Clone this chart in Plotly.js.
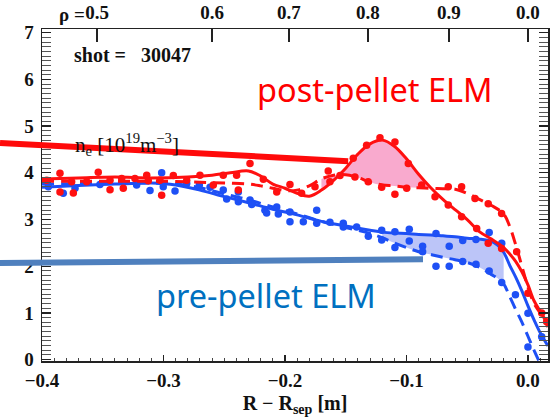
<!DOCTYPE html>
<html>
<head>
<meta charset="utf-8">
<script src="https://cdn.plot.ly/plotly-3.0.1.min.js"></script>
<style>html,body{margin:0;padding:0;background:#fff;}#chart{width:555px;height:417px;}</style>
</head>
<body>
<div id="chart"></div>
<script>
// ---- data ----
const redR = [-0.40,-0.37,-0.34,-0.31,-0.28,-0.26,-0.245,-0.23,-0.22,-0.21,-0.20,-0.19,-0.18,-0.17,-0.16,-0.15,-0.14,-0.13,-0.12,-0.11,-0.10,-0.09,-0.08,-0.07,-0.06,-0.05,-0.04,-0.03,-0.02,-0.015,-0.01,-0.005,0.0,0.005,0.01,0.0165];
const redSolid = [3.87,3.89,3.91,3.89,3.91,3.95,4.00,4.04,3.93,3.76,3.67,3.56,3.50,3.63,3.84,4.10,4.40,4.62,4.70,4.57,4.30,3.97,3.68,3.43,3.21,3.00,2.74,2.58,2.40,2.26,2.10,1.88,1.60,1.26,1.04,0.74];
const redDashed = [3.82,3.82,3.82,3.82,3.81,3.79,3.78,3.76,3.72,3.67,3.62,3.63,3.72,3.87,3.95,3.96,3.90,3.80,3.74,3.72,3.69,3.68,3.67,3.66,3.65,3.56,3.43,3.30,3.12,2.85,2.45,2.00,1.55,1.20,1.00,0.70];

const blueR = [-0.40,-0.37,-0.34,-0.31,-0.29,-0.27,-0.25,-0.23,-0.21,-0.19,-0.17,-0.15,-0.13,-0.12,-0.11,-0.10,-0.09,-0.08,-0.07,-0.06,-0.05,-0.04,-0.03,-0.025,-0.02,-0.015,-0.01,-0.005,0.0,0.005,0.01,0.0165];
const blueSolid = [3.69,3.73,3.76,3.78,3.74,3.63,3.49,3.36,3.22,3.10,2.96,2.86,2.77,2.73,2.71,2.70,2.68,2.67,2.65,2.63,2.60,2.58,2.53,2.45,2.30,2.02,1.76,1.47,1.15,0.85,0.58,0.29];
const blueDashed = [3.76,3.77,3.78,3.78,3.76,3.68,3.55,3.42,3.27,3.12,2.96,2.83,2.70,2.61,2.50,2.40,2.31,2.25,2.19,2.14,2.08,1.98,1.82,1.74,1.62,1.35,1.07,0.80,0.50,0.20,-0.08,-0.40];

const redDotR = [-0.3961,-0.3852,-0.3852,-0.3756,-0.3742,-0.3632,-0.3537,-0.3440,-0.3440,-0.3344,-0.3331,-0.3235,-0.3138,-0.3125,-0.3029,-0.3015,-0.2919,-0.2809,-0.2700,-0.2590,-0.2508,-0.2398,-0.2384,-0.2288,-0.2178,-0.2068,-0.1959,-0.1863,-0.1753,-0.1644,-0.1630,-0.1547,-0.1438,-0.1424,-0.1328,-0.1315,-0.1218,-0.1204,-0.1095,-0.1095,-0.0998,-0.0985,-0.0875,-0.0765,-0.0656,-0.0656,-0.0546,-0.0546,-0.0436,-0.0422,-0.0327,-0.0327,-0.0217,-0.0217,-0.0093,0.0000,0.0113,0.0154,0.0195];
const redDotN = [3.84,3.99,3.59,3.81,3.57,3.81,4.01,3.84,3.64,3.88,3.67,3.88,3.95,3.83,3.84,3.52,3.94,3.84,3.95,3.74,3.95,3.95,3.63,4.20,3.86,3.59,3.75,3.56,3.70,4.04,3.81,3.94,4.31,3.91,4.59,3.81,4.75,3.69,4.66,3.54,3.67,4.20,3.74,3.49,3.70,3.31,3.70,3.06,3.45,2.81,3.34,2.49,3.13,2.38,2.31,1.42,1.00,0.81,0.63];

const blueDotR = [-0.3948,-0.3825,-0.3728,-0.3523,-0.3221,-0.3111,-0.3015,-0.3002,-0.2905,-0.2809,-0.2705,-0.2617,-0.2508,-0.2480,-0.2384,-0.2384,-0.2288,-0.2274,-0.2165,-0.2151,-0.2068,-0.2055,-0.1959,-0.1959,-0.1849,-0.1739,-0.1739,-0.1630,-0.1520,-0.1520,-0.1410,-0.1314,-0.1204,-0.1204,-0.1095,-0.1095,-0.0977,-0.0977,-0.0867,-0.0867,-0.0757,-0.0757,-0.0648,-0.0648,-0.0537,-0.0537,-0.0428,-0.0428,-0.0319,-0.0319,-0.0216,-0.0216,-0.0103,0.0000,0.0000,0.0113];
const blueDotN = [3.70,3.56,3.67,3.75,3.74,3.62,4.00,3.70,3.61,3.77,3.74,3.69,3.63,3.44,3.59,3.38,3.42,3.32,3.20,3.14,3.27,3.12,3.16,2.95,2.95,3.20,2.92,2.94,2.92,2.84,2.84,2.64,2.77,2.56,2.74,2.40,2.79,2.54,2.43,2.31,2.70,2.00,2.43,2.00,2.55,2.10,2.57,2.04,2.72,1.90,2.49,1.65,1.39,0.99,0.27,0.49];

const pinkRange = [-0.17, -0.08];
const blueFillRange = [-0.12, -0.02];

const xTickVals = [-0.4,-0.3,-0.2,-0.1,0.0];
const xTickText = ['\u22120.4','\u22120.3','\u22120.2','\u22120.1','0.0'];
const yTickVals = [0,1,2,3,4,5,6,7];
const yTickText = ['0','1','2','3','4','5','6','7'];
const rhoTickR = [-0.3547,-0.2600,-0.1967,-0.1317,-0.0650,0.0];
const rhoTickText = ['0.5','0.6','0.7','0.8','0.9','0.0'];

// ---- styling ----
const RED = 'rgb(255,16,16)';
const BLUE = 'rgb(30,80,245)';
const PINK = 'rgb(249,170,206)';
const LBLUE = 'rgb(188,197,248)';
const SERIF = 'Liberation Serif, Times New Roman, serif';
const SANS = 'Noto Sans, Open Sans, sans-serif';
const XR = [-0.4, 0.0165];
const YR = [-0.03, 7.08];

function sub(xs, ys, lo, hi) {
  const idx = xs.map((_, i) => i).filter(i => xs[i] >= lo - 1e-9 && xs[i] <= hi + 1e-9);
  return {x: idx.map(i => xs[i]), y: idx.map(i => ys[i])};
}
const pinkLo = sub(redR, redDashed, pinkRange[0], pinkRange[1]);
const pinkHi = sub(redR, redSolid, pinkRange[0], pinkRange[1]);
const bfHi = sub(blueR, blueSolid, blueFillRange[0], blueFillRange[1]);
const bfLo = sub(blueR, blueDashed, blueFillRange[0], blueFillRange[1]);

const sp = {shape: 'spline', smoothing: 1};
const traces = [
  {x: pinkLo.x, y: pinkLo.y, mode: 'lines', line: Object.assign({width: 0, color: PINK}, sp), hoverinfo: 'skip'},
  {x: pinkHi.x, y: pinkHi.y, mode: 'lines', fill: 'tonexty', fillcolor: PINK, line: Object.assign({width: 0, color: PINK}, sp), hoverinfo: 'skip'},
  {x: bfLo.x, y: bfLo.y, mode: 'lines', line: Object.assign({width: 0, color: LBLUE}, sp), hoverinfo: 'skip'},
  {x: bfHi.x, y: bfHi.y, mode: 'lines', fill: 'tonexty', fillcolor: LBLUE, line: Object.assign({width: 0, color: LBLUE}, sp), hoverinfo: 'skip'},
  {x: blueR, y: blueDashed, mode: 'lines', line: Object.assign({width: 3, color: BLUE, dash: '12px,7px'}, sp)},
  {x: blueR, y: blueSolid, mode: 'lines', line: Object.assign({width: 3, color: BLUE}, sp)},
  {x: blueDotR, y: blueDotN, mode: 'markers', marker: {size: 7.5, color: BLUE}},
  {x: redR, y: redDashed, mode: 'lines', line: Object.assign({width: 3, color: RED, dash: '12px,7px'}, sp)},
  {x: redR, y: redSolid, mode: 'lines', line: Object.assign({width: 3, color: RED}, sp)},
  {x: redDotR, y: redDotN, mode: 'markers', marker: {size: 7.5, color: RED}},
  {x: rhoTickR, y: rhoTickR.map(() => null), xaxis: 'x2', mode: 'markers', hoverinfo: 'skip'}
];

function px(R) { return (R - XR[0]) / (XR[1] - XR[0]); }
function py(n) { return (n - YR[0]) / (YR[1] - YR[0]); }
const leftEdge = -42 / 506;
const pointers = [
  {fromN: 4.64, toR: -0.148, toN: 4.25, color: 'rgb(255,10,10)'},
  {fromN: 2.07, toR: -0.0864, toN: 2.15, color: 'rgb(79,128,190)'}
];
const shapes = pointers.map(p => ({
  type: 'line', xref: 'paper', yref: 'paper', layer: 'above',
  x0: leftEdge, y0: py(p.fromN), x1: px(p.toR), y1: py(p.toN),
  line: {color: p.color, width: 6}
}));

const tickFont = {family: SERIF, size: 19, color: '#111', weight: 'bold'};
const layout = {
  width: 555, height: 417,
  margin: {l: 42, r: 7, t: 29, b: 56},
  paper_bgcolor: '#fff', plot_bgcolor: '#fff',
  showlegend: false,
  xaxis: {
    range: XR, tickmode: 'array', tickvals: xTickVals, ticktext: xTickText,
    ticks: 'inside', ticklen: 6, tickwidth: 1.3, tickcolor: '#222',
    minor: {dtick: 0.01, tick0: 0, ticks: 'inside', ticklen: 3, tickwidth: 1, tickcolor: '#444'},
    showline: true, linecolor: '#222', linewidth: 1.5, mirror: false,
    showgrid: false, zeroline: false, tickfont: tickFont, ticklabelstandoff: 2,
    title: {text: 'R \u2212 R<sub>sep</sub> [m]', font: {family: SERIF, size: 20, color: '#111', weight: 'bold'}, standoff: 5}
  },
  xaxis2: {
    overlaying: 'x', side: 'top', anchor: 'y', range: XR,
    tickmode: 'array', tickvals: rhoTickR, ticktext: rhoTickText,
    ticks: 'inside', ticklen: 13, tickwidth: 1.3, tickcolor: '#222',
    showline: true, linecolor: '#222', linewidth: 1.5,
    showgrid: false, zeroline: false, tickfont: tickFont, ticklabelstandoff: 1
  },
  yaxis: {
    range: YR, tickmode: 'array', tickvals: yTickVals, ticktext: yTickText,
    ticks: 'inside', ticklen: 9, tickwidth: 1.3, tickcolor: '#222',
    minor: {dtick: 0.1, tick0: 0, ticks: 'inside', ticklen: 5, tickwidth: 1, tickcolor: '#555'},
    showline: true, linecolor: '#222', linewidth: 1.5, mirror: 'allticks',
    showgrid: false, zeroline: false, tickfont: tickFont, ticklabelstandoff: 3
  },
  shapes: shapes,
  annotations: [
    {xref: 'paper', yref: 'paper', x: px(rhoTickR[0]), y: 1, xanchor: 'right', yanchor: 'bottom', xshift: -10, yshift: 2,
     text: '\u03c1 =', showarrow: false, font: tickFont},
    {xref: 'paper', yref: 'paper', x: 0.059, y: 0.922, xanchor: 'left', yanchor: 'middle',
     text: 'shot =\u00a0\u00a0\u00a030047', showarrow: false, font: {family: SERIF, size: 20, color: '#111', weight: 'bold'}},
    {xref: 'paper', yref: 'paper', x: 0.061, y: 0.652, xanchor: 'left', yanchor: 'middle',
     text: 'n<sub>e</sub> [10<sup>19</sup>m<sup>\u22123</sup>]', showarrow: false, font: {family: SERIF, size: 21, color: '#111'}},
    {xref: 'paper', yref: 'paper', x: 0.42, y: 0.817, xanchor: 'left', yanchor: 'middle',
     text: 'post-pellet ELM', showarrow: false, font: {family: SANS, size: 32.5, color: 'rgb(255,0,0)'}},
    {xref: 'paper', yref: 'paper', x: 0.222, y: 0.198, xanchor: 'left', yanchor: 'middle',
     text: 'pre-pellet ELM', showarrow: false, font: {family: SANS, size: 32.5, color: 'rgb(0,112,192)'}}
  ]
};

Plotly.newPlot('chart', traces, layout, {staticPlot: true, displayModeBar: false});
</script>
</body>
</html>
